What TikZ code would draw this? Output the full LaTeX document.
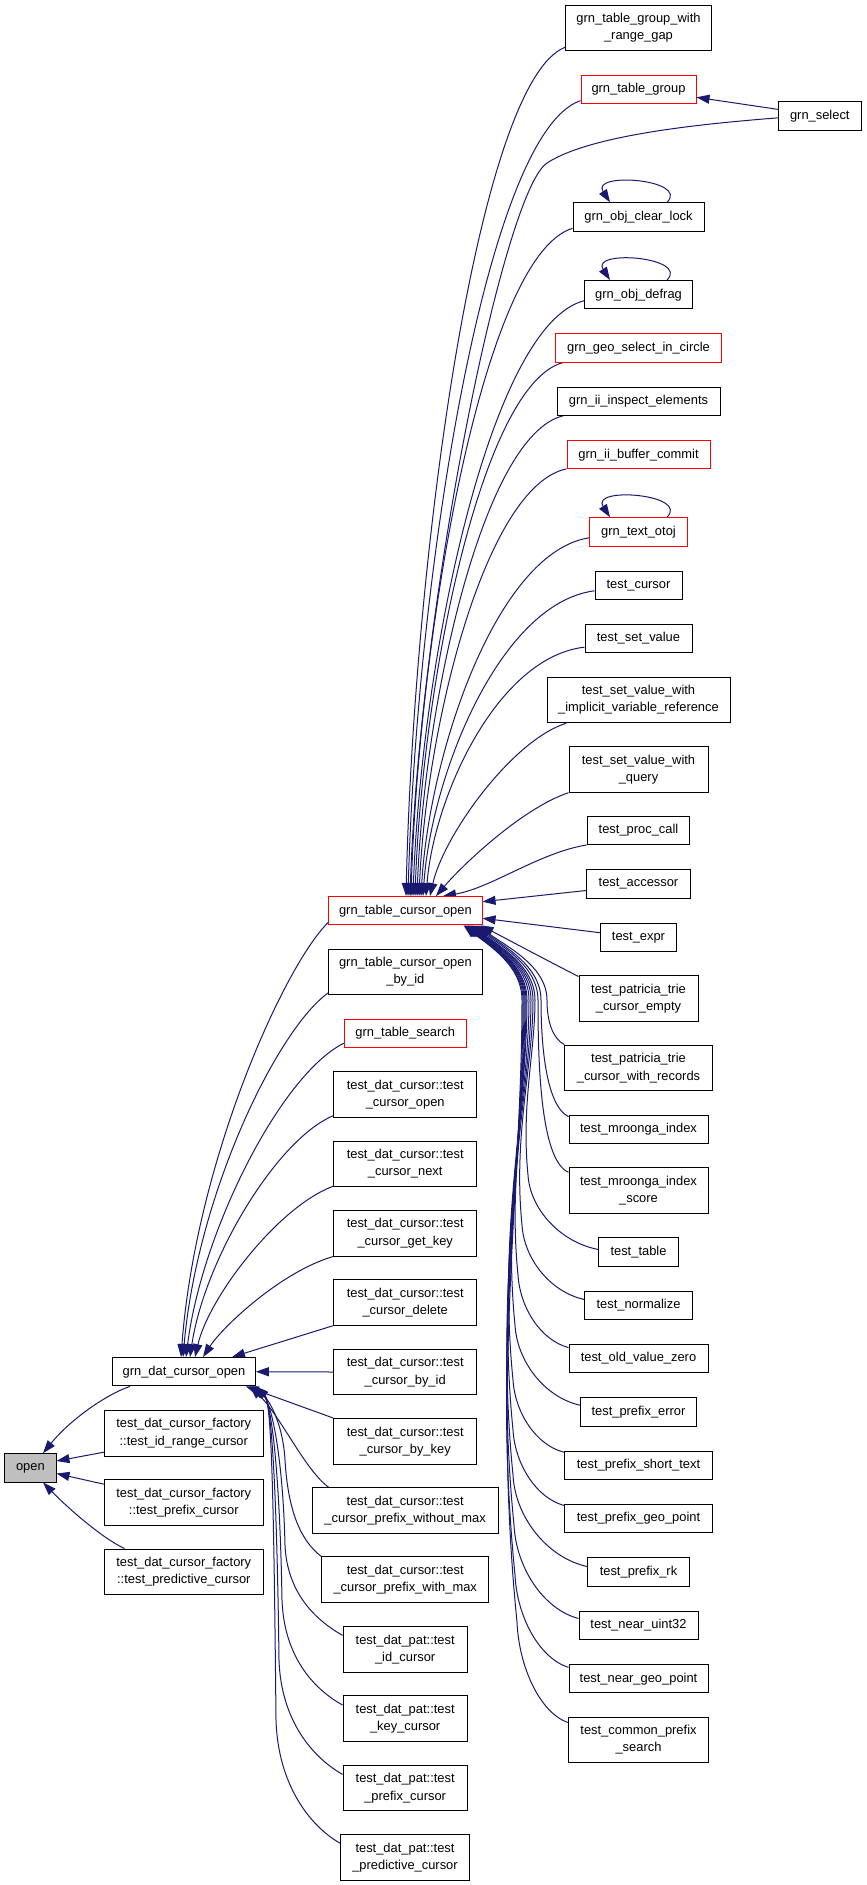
\documentclass[tikz,border=0pt]{standalone}
\usepackage{fontspec}
\setmainfont{Liberation Sans}
\usetikzlibrary{arrows.meta,calc}
\definecolor{midnight}{HTML}{191970}
\definecolor{boxgray}{HTML}{BFBFBF}
\pgfdeclarelayer{bg}
\pgfsetlayers{bg,main}
\newcommand\upedge[6]{\draw[edge] let \p1=(#1), \p2=(#2) in (\p1) .. controls ({(\x1)-#3*((\x1)-(\x2))},{(\y1)-#4*((\y1)-(\y2))}) and ({(\x2)+#5*((\x1)-(\x2))},{(\y2)+#6*((\y1)-(\y2))}) .. (\p2);}
\newcommand\lowedge[4]{\draw[edge] let \p1=(#1), \p2=(#4), \p3=(#2), \p4=(#3) in
 (\p1) .. controls ({(\x1)-0.55*((\x1)-(\x3))},{(\y1)+0.1*((\y3)-(\y1))}) and ({(\x3)+2pt},{(\y3)-0.45*((\y3)-(\y1))}) .. (\p3)
 .. controls ({(\x3)-0.04*((\y4)-(\y3))},{(\y3)+0.4*((\y4)-(\y3))}) and ({\x4},{(\y4)-0.3*((\y4)-(\y3))}) .. (\p4)
 .. controls ({\x4},{(\y4)+35pt}) and ({(\x2)+25pt},{(\y2)-20pt}) .. (\p2);}
\begin{document}
\begin{tikzpicture}[x=1pt,y=-1pt,
 box/.style={draw=black,line width=1pt,fill=white,inner sep=0pt,align=center,font=\fontsize{12.9}{17.3}\selectfont,minimum height=28.3pt},
 two/.style={minimum height=45.7pt},
 redbox/.style={box,draw=red},
 edge/.style={draw=midnight,line width=1pt,-{Triangle[length=13pt,width=9pt]}}]
\useasboundingbox (0,0) rectangle (867,1885);
% right column
\node[box,two,minimum width=145.6pt] (rg) at (638.5,27.85) {grn\_table\_group\_with\\\_range\_gap};
\node[redbox,minimum width=115pt] (tg) at (638.5,89.3) {grn\_table\_group};
\node[box,minimum width=83pt] (sel) at (819.8,115.85) {grn\_select};
\node[box,minimum width=131pt] (ocl) at (638.5,217) {grn\_obj\_clear\_lock};
\node[box,minimum width=107.3pt] (odf) at (638.5,294.7) {grn\_obj\_defrag};
\node[redbox,minimum width=165.6pt] (geo) at (638.5,347.85) {grn\_geo\_select\_in\_circle};
\node[box,minimum width=163pt] (iie) at (638.5,401.15) {grn\_ii\_inspect\_elements};
\node[redbox,minimum width=143pt] (ibc) at (638.5,454.7) {grn\_ii\_buffer\_commit};
\node[redbox,minimum width=97.6pt] (tot) at (638.5,531.85) {grn\_text\_otoj};
\node[box,minimum width=87pt] (tc) at (638.5,585.15) {test\_cursor};
\node[box,minimum width=107pt] (tsv) at (638.5,638.5) {test\_set\_value};
\node[box,two,minimum width=183pt] (tsvi) at (638.5,699.85) {test\_set\_value\_with\\\_implicit\_variable\_reference};
\node[box,two,minimum width=139pt] (tsvq) at (638.5,769.35) {test\_set\_value\_with\\\_query};
\node[box,minimum width=102.7pt] (tpc) at (638.5,830.3) {test\_proc\_call};
\node[box,minimum width=104pt] (tac) at (638.5,883.85) {test\_accessor};
\node[box,minimum width=76pt] (tex) at (638.5,937.3) {test\_expr};
\node[box,two,minimum width=119pt] (tpce) at (638.5,998.35) {test\_patricia\_trie\\\_cursor\_empty};
\node[box,two,minimum width=147.3pt] (tpcr) at (638.5,1068) {test\_patricia\_trie\\\_cursor\_with\_records};
\node[box,minimum width=139pt] (tmi) at (638.5,1129.3) {test\_mroonga\_index};
\node[box,two,minimum width=139pt] (tmis) at (638.5,1190.35) {test\_mroonga\_index\\\_score};
\node[box,minimum width=79.3pt] (ttb) at (638.5,1251.85) {test\_table};
\node[box,minimum width=107.3pt] (tnm) at (638.5,1305.15) {test\_normalize};
\node[box,minimum width=139pt] (tovz) at (638.5,1358.5) {test\_old\_value\_zero};
\node[box,minimum width=116pt] (tpe) at (638.5,1411.85) {test\_prefix\_error};
\node[box,minimum width=148.4pt] (tpst) at (638.5,1465.15) {test\_prefix\_short\_text};
\node[box,minimum width=147.3pt] (tpgp) at (638.5,1518.5) {test\_prefix\_geo\_point};
\node[box,minimum width=102pt] (tprk) at (638.5,1571.85) {test\_prefix\_rk};
\node[box,minimum width=119pt] (tnu) at (638.5,1625.15) {test\_near\_uint32};
\node[box,minimum width=139pt] (tngp) at (638.5,1678.7) {test\_near\_geo\_point};
\node[box,two,minimum width=140.4pt] (tcps) at (638.5,1739.85) {test\_common\_prefix\\\_search};
% middle column
\node[redbox,minimum width=153.3pt] (tco) at (405.4,910.7) {grn\_table\_cursor\_open};
\node[box,minimum width=153.3pt,minimum height=45pt] (tcob) at (405.4,971.8) {grn\_table\_cursor\_open\\\_by\_id};
\node[redbox,minimum width=121.7pt] (tse) at (405.2,1033.15) {grn\_table\_search};
\node[box,two,minimum width=143pt] (dc1) at (405.2,1094.65) {test\_dat\_cursor::test\\\_cursor\_open};
\node[box,two,minimum width=143pt] (dc2) at (405.2,1163.85) {test\_dat\_cursor::test\\\_cursor\_next};
\node[box,two,minimum width=143pt] (dc3) at (405.2,1233.15) {test\_dat\_cursor::test\\\_cursor\_get\_key};
\node[box,two,minimum width=143pt] (dc4) at (405.2,1302.3) {test\_dat\_cursor::test\\\_cursor\_delete};
\node[box,two,minimum width=143pt] (dc5) at (405.2,1372) {test\_dat\_cursor::test\\\_cursor\_by\_id};
\node[box,two,minimum width=143pt] (dc6) at (405.2,1441.35) {test\_dat\_cursor::test\\\_cursor\_by\_key};
\node[box,two,minimum width=185.7pt] (dc7) at (405.15,1510.5) {test\_dat\_cursor::test\\\_cursor\_prefix\_without\_max};
\node[box,two,minimum width=167pt] (dc8) at (405.2,1579.7) {test\_dat\_cursor::test\\\_cursor\_prefix\_with\_max};
\node[box,two,minimum width=124.3pt] (dp1) at (405.15,1649.35) {test\_dat\_pat::test\\\_id\_cursor};
\node[box,two,minimum width=124.3pt] (dp2) at (405.15,1718.65) {test\_dat\_pat::test\\\_key\_cursor};
\node[box,two,minimum width=124.3pt] (dp3) at (405.15,1788) {test\_dat\_pat::test\\\_prefix\_cursor};
\node[box,two,minimum width=128.6pt] (dp4) at (405,1857.35) {test\_dat\_pat::test\\\_predictive\_cursor};
% left column
\node[box,minimum width=142.6pt] (gdc) at (184,1371.7) {grn\_dat\_cursor\_open};
\node[box,two,minimum width=159pt] (f1) at (183.8,1433.15) {test\_dat\_cursor\_factory\\::test\_id\_range\_cursor};
\node[box,two,minimum width=159pt] (f2) at (183.8,1502.5) {test\_dat\_cursor\_factory\\::test\_prefix\_cursor};
\node[box,two,minimum width=159pt] (f3) at (183.8,1571.85) {test\_dat\_cursor\_factory\\::test\_predictive\_cursor};
\node[box,fill=boxgray,minimum width=51.3pt] (open) at (30.35,1467.85) {open};

\begin{pgfonlayer}{bg}
\fill[white] (0,0) rectangle (867,1885);
% callers of grn_table_cursor_open (upper)
\upedge{[yshift=4pt]rg.south west}{[xshift=0.6pt]tco.north}{0.55}{0.04}{0.05}{0.4}
\upedge{[yshift=3.3pt]tg.south west}{[xshift=2.6pt]tco.north}{0.55}{0.04}{0.05}{0.4}
\draw[edge] ([yshift=6.5pt]sel.west) -- ([yshift=-8pt]tg.east);
\draw[edge] ([yshift=-2pt]sel.west) .. controls (700,124) and (590,135) .. (547,163) .. controls (504,191) and (420,600) .. ([xshift=4.6pt]tco.north);
\upedge{[yshift=3.3pt]ocl.south west}{[xshift=5.6pt]tco.north}{0.55}{0.04}{0.05}{0.4}
\upedge{[yshift=8.7pt]odf.south west}{[xshift=7.6pt]tco.north}{0.55}{0.04}{0.05}{0.4}
\upedge{[xshift=8pt]geo.south west}{[xshift=9.6pt]tco.north}{0.55}{0.04}{0.05}{0.4}
\upedge{[xshift=6.7pt]iie.south west}{[xshift=11.6pt]tco.north}{0.55}{0.04}{0.05}{0.4}
\upedge{[yshift=0.5pt]ibc.south west}{[xshift=13.6pt]tco.north}{0.55}{0.04}{0.05}{0.4}
\upedge{[yshift=8.7pt]tot.south west}{[xshift=15.6pt]tco.north}{0.55}{0.04}{0.05}{0.4}
\upedge{[yshift=9pt]tc.south west}{[xshift=17.6pt]tco.north}{0.55}{0.04}{0.05}{0.4}
\upedge{[yshift=6pt]tsv.south west}{[xshift=20.6pt]tco.north}{0.55}{0.04}{0.05}{0.4}
\upedge{[xshift=19.7pt]tsvi.south west}{[xshift=24.6pt]tco.north}{0.4}{0.1}{0.1}{0.35}
\upedge{tsvq.south west}{[xshift=30.6pt]tco.north}{0.35}{0.15}{0.2}{0.3}
\upedge{tpc.south west}{[xshift=37.6pt]tco.north}{0.33}{0.15}{0.33}{0.15}
\draw[edge] ([yshift=8pt]tac.south west) -- ([yshift=9pt]tco.east);
\draw[edge] ([yshift=4.6pt]tex.west) -- ([yshift=-7.6pt]tco.east);
\draw[edge] ([yshift=-1.5pt]tpce.north west) .. controls (550,962) and (505,938) .. ([xshift=-2pt]tco.south east);
% callers of grn_table_cursor_open (lower)
\draw[edge] (tpcr.north west) .. controls (552,1038) and (547,1020) .. (547,1000) .. controls (547,965) and (503,944.7) .. ([xshift=-4pt]tco.south east);
\draw[edge] ([yshift=-2pt]tmi.north west) .. controls (545,1105) and (541,1040) .. (541,1000) .. controls (541,965) and (501,944.7) .. ([xshift=-6pt]tco.south east);
\draw[edge] ([yshift=-5.3pt]tmis.north west) .. controls (540,1160) and (538,1060) .. (538,1000) .. controls (538,965) and (499,944.7) .. ([xshift=-8pt]tco.south east);
\lowedge{[yshift=-12.3pt]ttb.north west}{528,1175}{535,1000}{[xshift=-10pt]tco.south east}
\lowedge{[yshift=-9pt]tnm.north west}{522,1225}{533,1000}{[xshift=-11pt]tco.south east}
\lowedge{[yshift=-3.7pt]tovz.north west}{518,1275}{531,1000}{[xshift=-12pt]tco.south east}
\lowedge{[yshift=-8pt]tpe.north west}{515,1325}{529,1000}{[xshift=-13pt]tco.south east}
\lowedge{[yshift=-1.7pt]tpst.north west}{513,1380}{527,1000}{[xshift=-14pt]tco.south east}
\lowedge{[yshift=-1.7pt]tpgp.north west}{513,1430}{526,1000}{[xshift=-15pt]tco.south east}
\lowedge{[yshift=-9.3pt]tprk.north west}{513,1475}{525,1000}{[xshift=-16pt]tco.south east}
\lowedge{[yshift=-8pt]tnu.north west}{514,1525}{524,1000}{[xshift=-17pt]tco.south east}
\lowedge{[yshift=-3.3pt]tngp.north west}{515,1575}{523,1000}{[xshift=-18pt]tco.south east}
\lowedge{[yshift=-6pt]tcps.north west}{517,1622}{522,1000}{[xshift=-19pt]tco.south east}
% self loops
\draw[edge] ([xshift=28.5pt]ocl.north) .. controls +(23,-23) and +(-20,-31) .. ([xshift=-28.5pt]ocl.north);
\draw[edge] ([xshift=28.5pt]odf.north) .. controls +(23,-23) and +(-20,-31) .. ([xshift=-28.5pt]odf.north);
\draw[edge] ([xshift=28.5pt]tot.north) .. controls +(23,-23) and +(-20,-31) .. ([xshift=-28.5pt]tot.north);
% callers of grn_dat_cursor_open
\upedge{[yshift=3pt]tco.south west}{[xshift=-3pt]gdc.north}{0.3}{0.1}{0.1}{0.45}
\upedge{[yshift=2pt]tcob.south west}{[xshift=-1pt]gdc.north}{0.35}{0.1}{0.1}{0.45}
\upedge{[yshift=4.6pt]tse.south west}{[xshift=2pt]gdc.north}{0.4}{0.1}{0.1}{0.4}
\upedge{[yshift=2.3pt]dc1.south west}{[xshift=6pt]gdc.north}{0.4}{0.1}{0.1}{0.4}
\upedge{[yshift=1pt]dc2.south west}{[xshift=11pt]gdc.north}{0.4}{0.12}{0.1}{0.35}
\upedge{dc3.south west}{[xshift=19pt]gdc.north}{0.4}{0.15}{0.15}{0.3}
\draw[edge] (dc4.south west) -- ([xshift=48pt]gdc.north);
\draw[edge] (dc5.west) -- (gdc.east);
\draw[edge] (dc6.north west) -- ([xshift=-10pt]gdc.south east);
\draw[edge] ([xshift=16.7pt]dc7.north west) .. controls (305,1470) and (280,1415) .. ([xshift=-6pt]gdc.south east);
\draw[edge] (dc8.north west) .. controls (300,1540) and (288,1510) .. (285,1460) .. controls (283,1425) and (270,1400) .. ([xshift=-4pt]gdc.south east);
\draw[edge] ([yshift=-9.3pt]dp1.north west) .. controls (312,1618) and (287,1590) .. (285,1545) .. controls (283,1460) and (272,1402) .. ([xshift=-3pt]gdc.south east);
\draw[edge] ([yshift=-9.7pt]dp2.north west) .. controls (312,1688) and (284,1655) .. (282,1600) .. controls (280,1480) and (272,1402) .. ([xshift=-2pt]gdc.south east);
\draw[edge] ([yshift=-9.7pt]dp3.north west) .. controls (312,1757) and (281,1720) .. (279,1660) .. controls (277,1500) and (272,1402) .. ([xshift=-1pt]gdc.south east);
\draw[edge] ([yshift=-9.3pt]dp4.north west) .. controls (310,1826) and (278,1785) .. (276,1720) .. controls (274,1520) and (272,1402) .. (gdc.south east);
% callers of open
\draw[edge] ([xshift=-54pt]gdc.south) .. controls (105,1395) and (70,1420) .. ([xshift=12.7pt]open.north);
\draw[edge] ([yshift=4.3pt]f1.south west) -- ([yshift=6.85pt]open.east);
\draw[edge] ([yshift=-5pt]f2.north west) -- ([yshift=-5.65pt]open.east);
\draw[edge] ([xshift=20.7pt]f3.north west) .. controls (100,1537) and (65,1505) .. ([xshift=12.7pt]open.south);
\end{pgfonlayer}
\end{tikzpicture}
\end{document}
